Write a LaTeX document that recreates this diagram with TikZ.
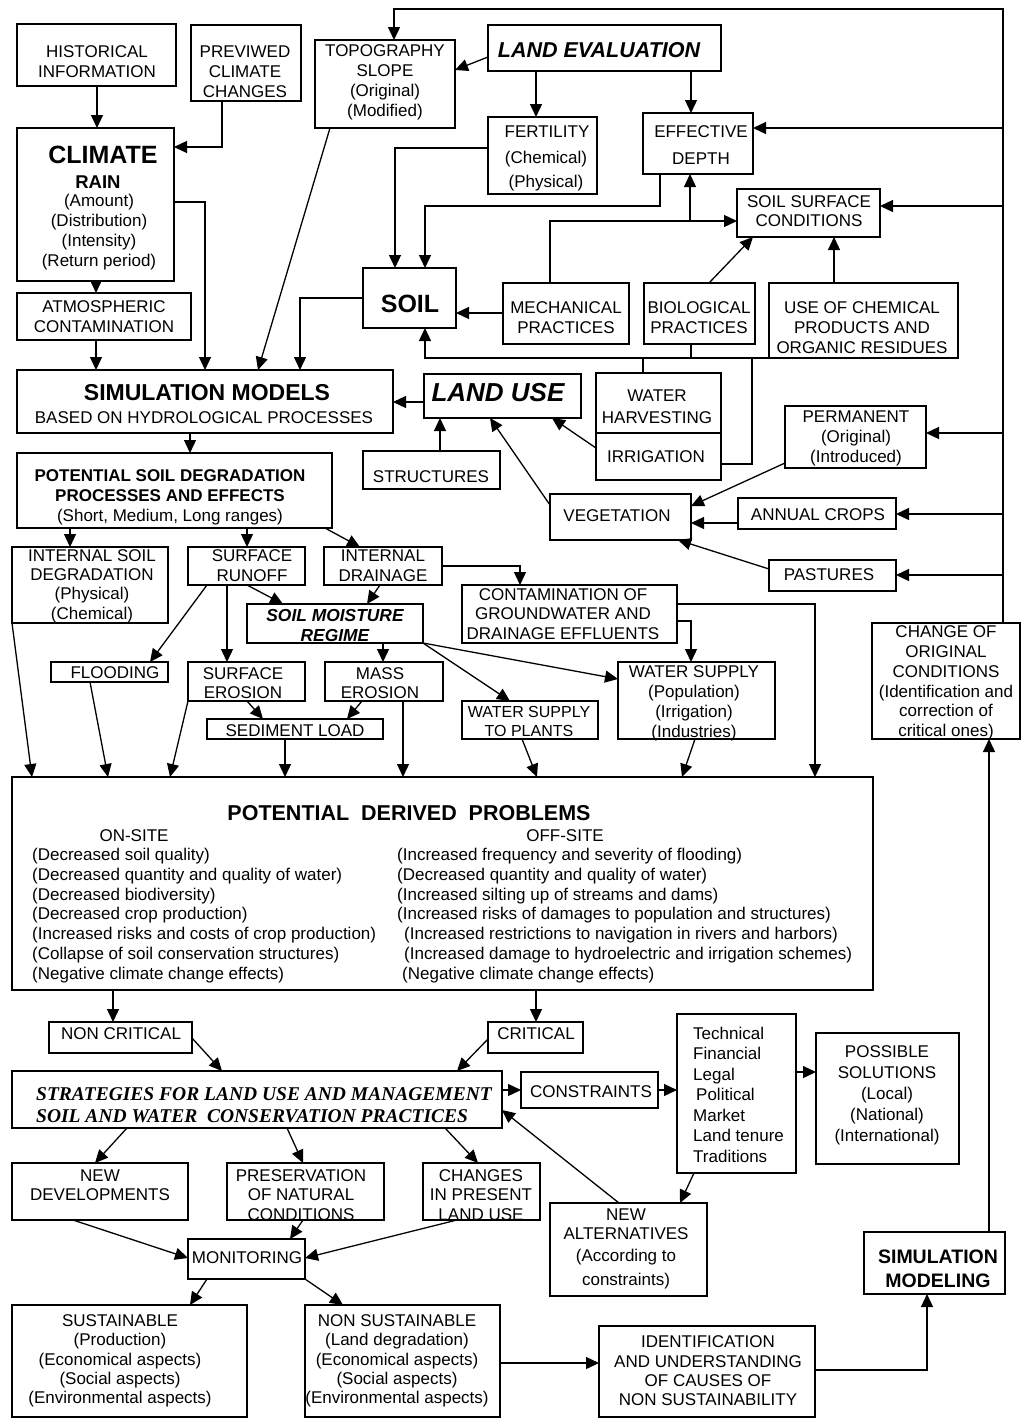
\documentclass[tikz,border=0pt]{standalone}
\usepackage{fontspec}
\setmainfont{Liberation Sans}
\newfontfamily\serifface{Liberation Serif}
\usetikzlibrary{arrows.meta}
\newcommand\mkbox[6][]{\node[bx,#1,minimum width={(#4)-(#2)},minimum height={(#5)-(#3)}] (#6) at ({((#2)+(#4))/2},{((#3)+(#5))/2}) {};}
\tikzset{
  bx/.style={draw, line width=1.3pt, inner sep=0pt, outer sep=0pt},
  thickbx/.style={line width=2.6pt},
  tx/.style={inner sep=0pt, align=center, font=\fontsize{17}{20}\selectfont},
  arr/.style={line width=1.3pt, -{Triangle[length=13pt,width=12pt]}},
  ln/.style={line width=1.3pt},
}
\begin{document}
\begin{tikzpicture}[x=1pt,y=-1pt]
\fill[white] (0,0) rectangle (1022,1419);
\useasboundingbox (0,0) rectangle (1022,1419);
% ---------- boxes ----------
\mkbox{17}{24}{176}{86}{hist}
\mkbox{191}{25}{301}{101}{prev}
\mkbox{315}{40}{455}{128}{topo}
\mkbox{488}{25}{721}{71}{leval}
\mkbox{488}{117}{597}{194}{fert}
\mkbox{643}{113}{753}{174}{effd}
\mkbox{737}{189}{880}{237}{ssc}
\mkbox{17}{128}{174}{281}{clim}
\mkbox{17}{293}{191}{340}{atmo}
\mkbox[thickbx]{363}{268}{456}{328}{soil}
\mkbox{503}{283}{629}{344}{mech}
\mkbox{644}{283}{755}{344}{bio}
\mkbox{769}{283}{958}{358}{chem}
\mkbox{17}{370}{393}{433}{sim}
\mkbox[thickbx]{424}{374}{581}{418}{luse}
\mkbox{596}{373}{721}{433}{wh}
\mkbox{596}{433}{721}{480}{irr}
\mkbox{363}{451}{500}{489}{struct}
\mkbox{785}{406}{926}{468}{perm}
\mkbox{550}{494}{691}{540}{veg}
\mkbox{738}{498}{896}{529}{annual}
\mkbox{769}{560}{896}{591}{past}
\mkbox{17}{453}{332}{528}{psd}
\mkbox{12}{547}{168}{623}{isd}
\mkbox{188}{547}{305}{585}{srun}
\mkbox{324}{547}{442}{585}{idrain}
\mkbox{462}{585}{677}{643}{contam}
\mkbox[thickbx]{247}{604}{423}{643}{smr}
\mkbox{51}{662}{168}{682}{flood}
\mkbox{188}{662}{305}{701}{serod}
\mkbox{325}{662}{443}{701}{merod}
\mkbox{207}{719}{383}{739}{sedl}
\mkbox{462}{701}{598}{739}{wsp}
\mkbox{618}{662}{775}{739}{wsup}
\mkbox{872}{623}{1020}{739}{change}
\mkbox[thickbx]{12}{777}{873}{990}{pdp}
\mkbox{49}{1022}{192}{1053}{noncrit}
\mkbox{488}{1022}{583}{1053}{crit}
\mkbox[thickbx]{12}{1071}{502}{1128}{strat}
\mkbox{521}{1072}{658}{1108}{cons}
\mkbox{677}{1014}{796}{1173}{tech}
\mkbox{816}{1033}{959}{1164}{poss}
\mkbox{12}{1163}{188}{1220}{newdev}
\mkbox{227}{1163}{384}{1220}{pres}
\mkbox{423}{1163}{540}{1220}{chg}
\mkbox{188}{1239}{305}{1279}{monit}
\mkbox{550}{1203}{707}{1296}{newalt}
\mkbox[line width=1.8pt]{864}{1232}{1005}{1294}{simmod}
\mkbox{12}{1305}{247}{1417}{sust}
\mkbox{305}{1305}{500}{1417}{nonsust}
\mkbox{599}{1326}{815}{1417}{ident}
% ---------- texts ----------
\node[tx] (t-hist) at (97,62) {HISTORICAL\\INFORMATION};
\node[tx] (t-prev) at (245,72) {PREVIWED\\CLIMATE\\CHANGES};
\node[tx] (t-topo) at (385,82) {TOPOGRAPHY\\SLOPE\\(Original)\\(Modified)};
\node[tx,font=\fontsize{25}{28}\selectfont\bfseries] (t-clim) at (103,155) {CLIMATE};
\node[tx,font=\fontsize{18.5}{20}\selectfont\bfseries] (t-rain) at (98,182) {RAIN};
\node[tx] (t-rain2) at (99,232) {(Amount)\\(Distribution)\\(Intensity)\\(Return period)};
\node[tx] (t-atmo) at (104,317) {ATMOSPHERIC\\CONTAMINATION};
\node[tx,font=\fontsize{21.5}{24}\selectfont\bfseries\itshape] (t-leval) at (599,50) {LAND EVALUATION};
\node[tx] (t-fert) at (547,132) {FERTILITY};
\node[tx,font=\fontsize{17}{24}\selectfont] (t-fert2) at (546,171) {(Chemical)\\(Physical)};
\node[tx,font=\fontsize{17}{27}\selectfont] (t-effd) at (701,145) {EFFECTIVE\\DEPTH};
\node[tx,font=\fontsize{17}{19}\selectfont] (t-ssc) at (809,211) {SOIL SURFACE\\CONDITIONS};
\node[tx,font=\fontsize{25}{28}\selectfont\bfseries] (t-soil) at (410,304) {SOIL};
\node[tx] (t-mech) at (566,318) {MECHANICAL\\PRACTICES};
\node[tx] (t-bio) at (699,318) {BIOLOGICAL\\PRACTICES};
\node[tx] (t-chem) at (862,328) {USE OF CHEMICAL\\PRODUCTS AND\\ORGANIC RESIDUES};
\node[tx,font=\fontsize{23}{26}\selectfont\bfseries] (t-sim) at (207,393) {SIMULATION MODELS};
\node[tx] (t-sim2) at (204,418) {BASED ON HYDROLOGICAL PROCESSES};
\node[tx,font=\fontsize{26}{28}\selectfont\bfseries\itshape] (t-luse) at (498,393) {LAND USE};
\node[tx,font=\fontsize{17}{22}\selectfont] (t-wh) at (657,407) {WATER\\HARVESTING};
\node[tx] (t-irr) at (656,457) {IRRIGATION};
\node[tx] (t-struct) at (431,477) {STRUCTURES};
\node[tx] (t-perm) at (856,438) {PERMANENT\\(Original)\\(Introduced)};
\node[tx] (t-veg) at (617,516) {VEGETATION};
\node[tx] (t-annual) at (818,515) {ANNUAL CROPS};
\node[tx] (t-past) at (829,575) {PASTURES};
\node[tx] (t-psd) at (170,497) {{\bfseries POTENTIAL SOIL DEGRADATION}\\{\bfseries PROCESSES AND EFFECTS}\\(Short, Medium, Long ranges)};
\node[tx,font=\fontsize{17}{19.3}\selectfont] (t-isd) at (92,586) {INTERNAL SOIL\\DEGRADATION\\(Physical)\\(Chemical)};
\node[tx] (t-srun) at (252,566) {SURFACE\\RUNOFF};
\node[tx] (t-idrain) at (383,566) {INTERNAL\\DRAINAGE};
\node[tx,font=\fontsize{17}{19.5}\selectfont] (t-contam) at (563,614) {CONTAMINATION OF\\GROUNDWATER AND\\DRAINAGE EFFLUENTS};
\node[tx,font=\fontsize{17.4}{20}\selectfont\bfseries\itshape] (t-smr) at (335,625) {SOIL MOISTURE\\REGIME};
\node[tx] (t-flood) at (115,673) {FLOODING};
\node[tx,font=\fontsize{17}{19}\selectfont] (t-serod) at (243,683) {SURFACE\\EROSION};
\node[tx,font=\fontsize{17}{19}\selectfont] (t-merod) at (380,683) {MASS\\EROSION};
\node[tx] (t-sedl) at (295,731) {SEDIMENT LOAD};
\node[tx,font=\fontsize{16}{19}\selectfont] (t-wsp) at (529,721) {WATER SUPPLY\\TO PLANTS};
\node[tx] (t-wsup) at (694,703) {WATER SUPPLY\\(Population)\\(Irrigation)\\(Industries)};
\node[tx,font=\fontsize{17}{19.8}\selectfont] (t-change) at (946,683) {CHANGE OF\\ORIGINAL\\CONDITIONS\\(Identification and\\correction of\\critical ones)};
\node[tx,font=\fontsize{21.5}{24}\selectfont\bfseries] (t-pdp) at (409,813) {POTENTIAL\ \ DERIVED\ \ PROBLEMS};
\node[tx] (t-on) at (134,836) {ON-SITE};
\node[tx] (t-off) at (565,836) {OFF-SITE};
\node[tx,align=left,anchor=west,font=\fontsize{17}{19.8}\selectfont] (t-onl) at (32,915.5) {(Decreased soil quality)\\(Decreased quantity and quality of water)\\(Decreased biodiversity)\\(Decreased crop production)\\(Increased risks and costs of crop production)\\(Collapse of soil conservation structures)\\(Negative climate change effects)};
\node[tx,align=left,anchor=west,font=\fontsize{17}{19.8}\selectfont] (t-offl) at (397,915.5) {(Increased frequency and severity of flooding)\\(Decreased quantity and quality of water)\\(Increased silting up of streams and dams)\\(Increased risks of damages to population and structures)\\\hspace*{7pt}(Increased restrictions to navigation in rivers and harbors)\\\hspace*{7pt}(Increased damage to hydroelectric and irrigation schemes)\\\hspace*{5pt}(Negative climate change effects)};
\node[tx] (t-noncrit) at (121,1034) {NON CRITICAL};
\node[tx] (t-crit) at (536,1034) {CRITICAL};
\node[tx,align=left,anchor=west,font=\serifface\fontsize{19.5}{22}\selectfont\bfseries\itshape] (t-strat) at (36,1105) {STRATEGIES FOR LAND USE AND MANAGEMENT\\SOIL AND WATER\ \ CONSERVATION PRACTICES};
\node[tx] (t-cons) at (591,1092) {CONSTRAINTS};
\node[tx,align=left,anchor=west,font=\fontsize{17}{20.5}\selectfont] (t-tech) at (693,1094.5) {Technical\\Financial\\Legal\\\hspace*{3pt}Political\\Market\\Land tenure\\Traditions};
\node[tx,font=\fontsize{17}{21}\selectfont] (t-poss) at (887,1095) {POSSIBLE\\SOLUTIONS\\(Local)\\(National)\\(International)};
\node[tx,font=\fontsize{17}{19}\selectfont] (t-newdev) at (100,1185) {NEW\\DEVELOPMENTS};
\node[tx,font=\fontsize{17}{19.5}\selectfont] (t-pres) at (301,1195) {PRESERVATION\\OF NATURAL\\CONDITIONS};
\node[tx,font=\fontsize{17}{19.5}\selectfont] (t-chg) at (481,1195) {CHANGES\\IN PRESENT\\LAND USE};
\node[tx] (t-monit) at (247,1258) {MONITORING};
\node[tx,font=\fontsize{17}{19}\selectfont] (t-newalt) at (626,1224) {NEW\\ALTERNATIVES};
\node[tx,font=\fontsize{17}{24}\selectfont] (t-newalt2) at (626,1269) {(According to\\constraints)};
\node[tx,font=\fontsize{19.5}{24}\selectfont\bfseries] (t-simmod) at (938,1269) {SIMULATION\\MODELING};
\node[tx,font=\fontsize{17}{19.3}\selectfont] (t-sust) at (120,1361) {SUSTAINABLE\\(Production)\\(Economical aspects)\\(Social aspects)\\(Environmental aspects)};
\node[tx,font=\fontsize{17}{19.3}\selectfont] (t-nonsust) at (397,1361) {NON SUSTAINABLE\\(Land degradation)\\(Economical aspects)\\(Social aspects)\\(Environmental aspects)};
\node[tx,font=\fontsize{17}{19.3}\selectfont] (t-ident) at (708,1371) {IDENTIFICATION\\AND UNDERSTANDING\\OF CAUSES OF\\NON SUSTAINABILITY};
% ---------- junction coordinates ----------
\coordinate (jm) at (690,221);
\coordinate (jb) at (691,358);
\coordinate (jw) at (643,358);
\coordinate (ji) at (752,358);
\coordinate (r1) at (1003,128);
\coordinate (r2) at (1003,206);
\coordinate (r3) at (1003,433);
\coordinate (r4) at (1003,514);
\coordinate (r5) at (1003,575);
% ---------- connectors: upper part ----------
\draw[arr] (hist.south -| 97,0) -- (clim.north -| 97,0);
\draw[arr] (prev.south -| 222,0) |- (clim.east |- 0,147);
\draw[arr] (clim.east |- 0,202) -| (sim.north -| 205,0);
\draw[arr] (clim.south -| 96,0) -- (atmo.north -| 96,0);
\draw[arr] (atmo.south -| 96,0) -- (sim.north -| 96,0);
\draw[arr] (topo.south -| 330,0) -- (sim.north -| 258,0);
\draw[arr] (soil.west |- 0,298) -| (sim.north -| 300,0);
\draw[arr] (leval.west |- 0,57) -- (topo.east |- 0,70);
\draw[arr] (leval.south -| 536,0) -- (fert.north -| 536,0);
\draw[arr] (leval.south -| 691,0) -- (effd.north -| 691,0);
\draw[arr] (fert.west |- 0,148) -| (soil.north -| 395,0);
\draw[arr] (effd.south -| 660,0) |- (425,206) -- (soil.north -| 425,0);
\draw[arr] (mech.north -| 550,0) |- (ssc.west |- 0,221);
\draw[arr] (jm) -- (effd.south -| 690,0);
\draw[arr] (bio.north -| 709,0) -- (ssc.south -| 753,0);
\draw[arr] (chem.north -| 834,0) -- (ssc.south -| 834,0);
\draw[arr] (mech.west |- 0,313) -- (soil.east |- 0,313);
\draw[arr] (chem.south west) -| (soil.south -| 425,0);
\draw[ln] (bio.south -| 691,0) -- (jb);
\draw[ln] (wh.north -| 643,0) -- (jw);
\draw[ln] (irr.east |- 0,464) -| (ji);
\draw[arr] (luse.west |- 0,402) -- (sim.east |- 0,402);
\draw[arr] (struct.north -| 440,0) -- (luse.south -| 440,0);
\draw[arr] (irr.west |- 0,448) -- (luse.south -| 552,0);
\draw[arr] (veg.west |- 0,505) -- (luse.south -| 490,0);
\draw[arr] (perm.west |- 0,463) -- (veg.east |- 0,506);
\draw[arr] (annual.west |- 0,523) -- (veg.east |- 0,523);
\draw[arr] (past.west |- 0,569) -- (veg.south -| 678,0);
\draw[arr] (change.north -| 1003,0) |- (394,9) -- (topo.north -| 394,0);
\draw[arr] (r1) -- (effd.east |- r1);
\draw[arr] (r2) -- (ssc.east |- r2);
\draw[arr] (r3) -- (perm.east |- r3);
\draw[arr] (r4) -- (annual.east |- r4);
\draw[arr] (r5) -- (past.east |- r5);
% ---------- connectors: degradation ----------
\draw[arr] (sim.south -| 190,0) -- (psd.north -| 190,0);
\draw[arr] (psd.south -| 70,0) -- (isd.north -| 70,0);
\draw[arr] (psd.south -| 247,0) -- (srun.north -| 247,0);
\draw[arr] (psd.south -| 325,0) -- (idrain.north -| 360,0);
\draw[arr] (isd.south west) -- (pdp.north -| 32,0);
\draw[arr] (srun.south -| 207,0) -- (flood.north -| 150,0);
\draw[arr] (srun.south -| 227,0) -- (serod.north -| 227,0);
\draw[arr] (srun.south -| 247,0) -- (smr.north -| 283,0);
\draw[arr] (idrain.south -| 380,0) -- (smr.north -| 367,0);
\draw[arr] (idrain.east |- 0,566) -| (contam.north -| 520,0);
\draw[arr] (smr.south -| 383,0) -- (merod.north -| 383,0);
\draw[arr] (smr.south east) -- (wsp.north -| 510,0);
\draw[arr] (smr.south east) -- (wsup.west |- 0,679);
\draw[arr] (contam.east |- 0,621) -| (wsup.north -| 691,0);
\draw[arr] (contam.east |- 0,604) -| (pdp.north -| 815,0);
\draw[arr] (flood.south -| 90,0) -- (pdp.north -| 108,0);
\draw[arr] (serod.south west) -- (pdp.north -| 170,0);
\draw[arr] (serod.south -| 247,0) -- (sedl.north -| 263,0);
\draw[arr] (merod.south -| 362,0) -- (sedl.north -| 347,0);
\draw[arr] (sedl.south -| 285,0) -- (pdp.north -| 285,0);
\draw[arr] (merod.south -| 403,0) -- (pdp.north -| 403,0);
\draw[arr] (wsp.south -| 522,0) -- (pdp.north -| 537,0);
\draw[arr] (wsup.south -| 695,0) -- (pdp.north -| 682,0);
\draw[arr] (simmod.north -| 989,0) -- (change.south -| 989,0);
% ---------- connectors: lower part ----------
\draw[arr] (pdp.south -| 113,0) -- (noncrit.north -| 113,0);
\draw[arr] (pdp.south -| 536,0) -- (crit.north -| 536,0);
\draw[arr] (noncrit.east |- 0,1038) -- (strat.north -| 222,0);
\draw[arr] (crit.west |- 0,1039) -- (strat.north -| 457,0);
\draw[arr] (strat.east |- 0,1090) -- (cons.west |- 0,1090);
\draw[arr] (cons.east |- 0,1090) -- (tech.west |- 0,1090);
\draw[arr] (tech.east |- 0,1072) -- (poss.west |- 0,1072);
\draw[arr] (tech.south -| 694,0) -- (newalt.north -| 680,0);
\draw[arr] (newalt.north -| 619,0) -- (strat.east |- 0,1110);
\draw[arr] (strat.south -| 127,0) -- (newdev.north -| 95,0);
\draw[arr] (strat.south -| 287,0) -- (pres.north -| 303,0);
\draw[arr] (strat.south -| 445,0) -- (chg.north -| 478,0);
\draw[arr] (newdev.south -| 73,0) -- (monit.west |- 0,1258);
\draw[arr] (pres.south -| 303,0) -- (monit.north -| 290,0);
\draw[arr] (chg.south -| 457,0) -- (monit.east |- 0,1258);
\draw[arr] (monit.south -| 207,0) -- (sust.north -| 190,0);
\draw[arr] (monit.south east) -- (nonsust.north -| 343,0);
\draw[arr] (nonsust.east |- 0,1363) -- (ident.west |- 0,1363);
\draw[arr] (ident.east |- 0,1370) -| (simmod.south -| 927,0);
\end{tikzpicture}
\end{document}
